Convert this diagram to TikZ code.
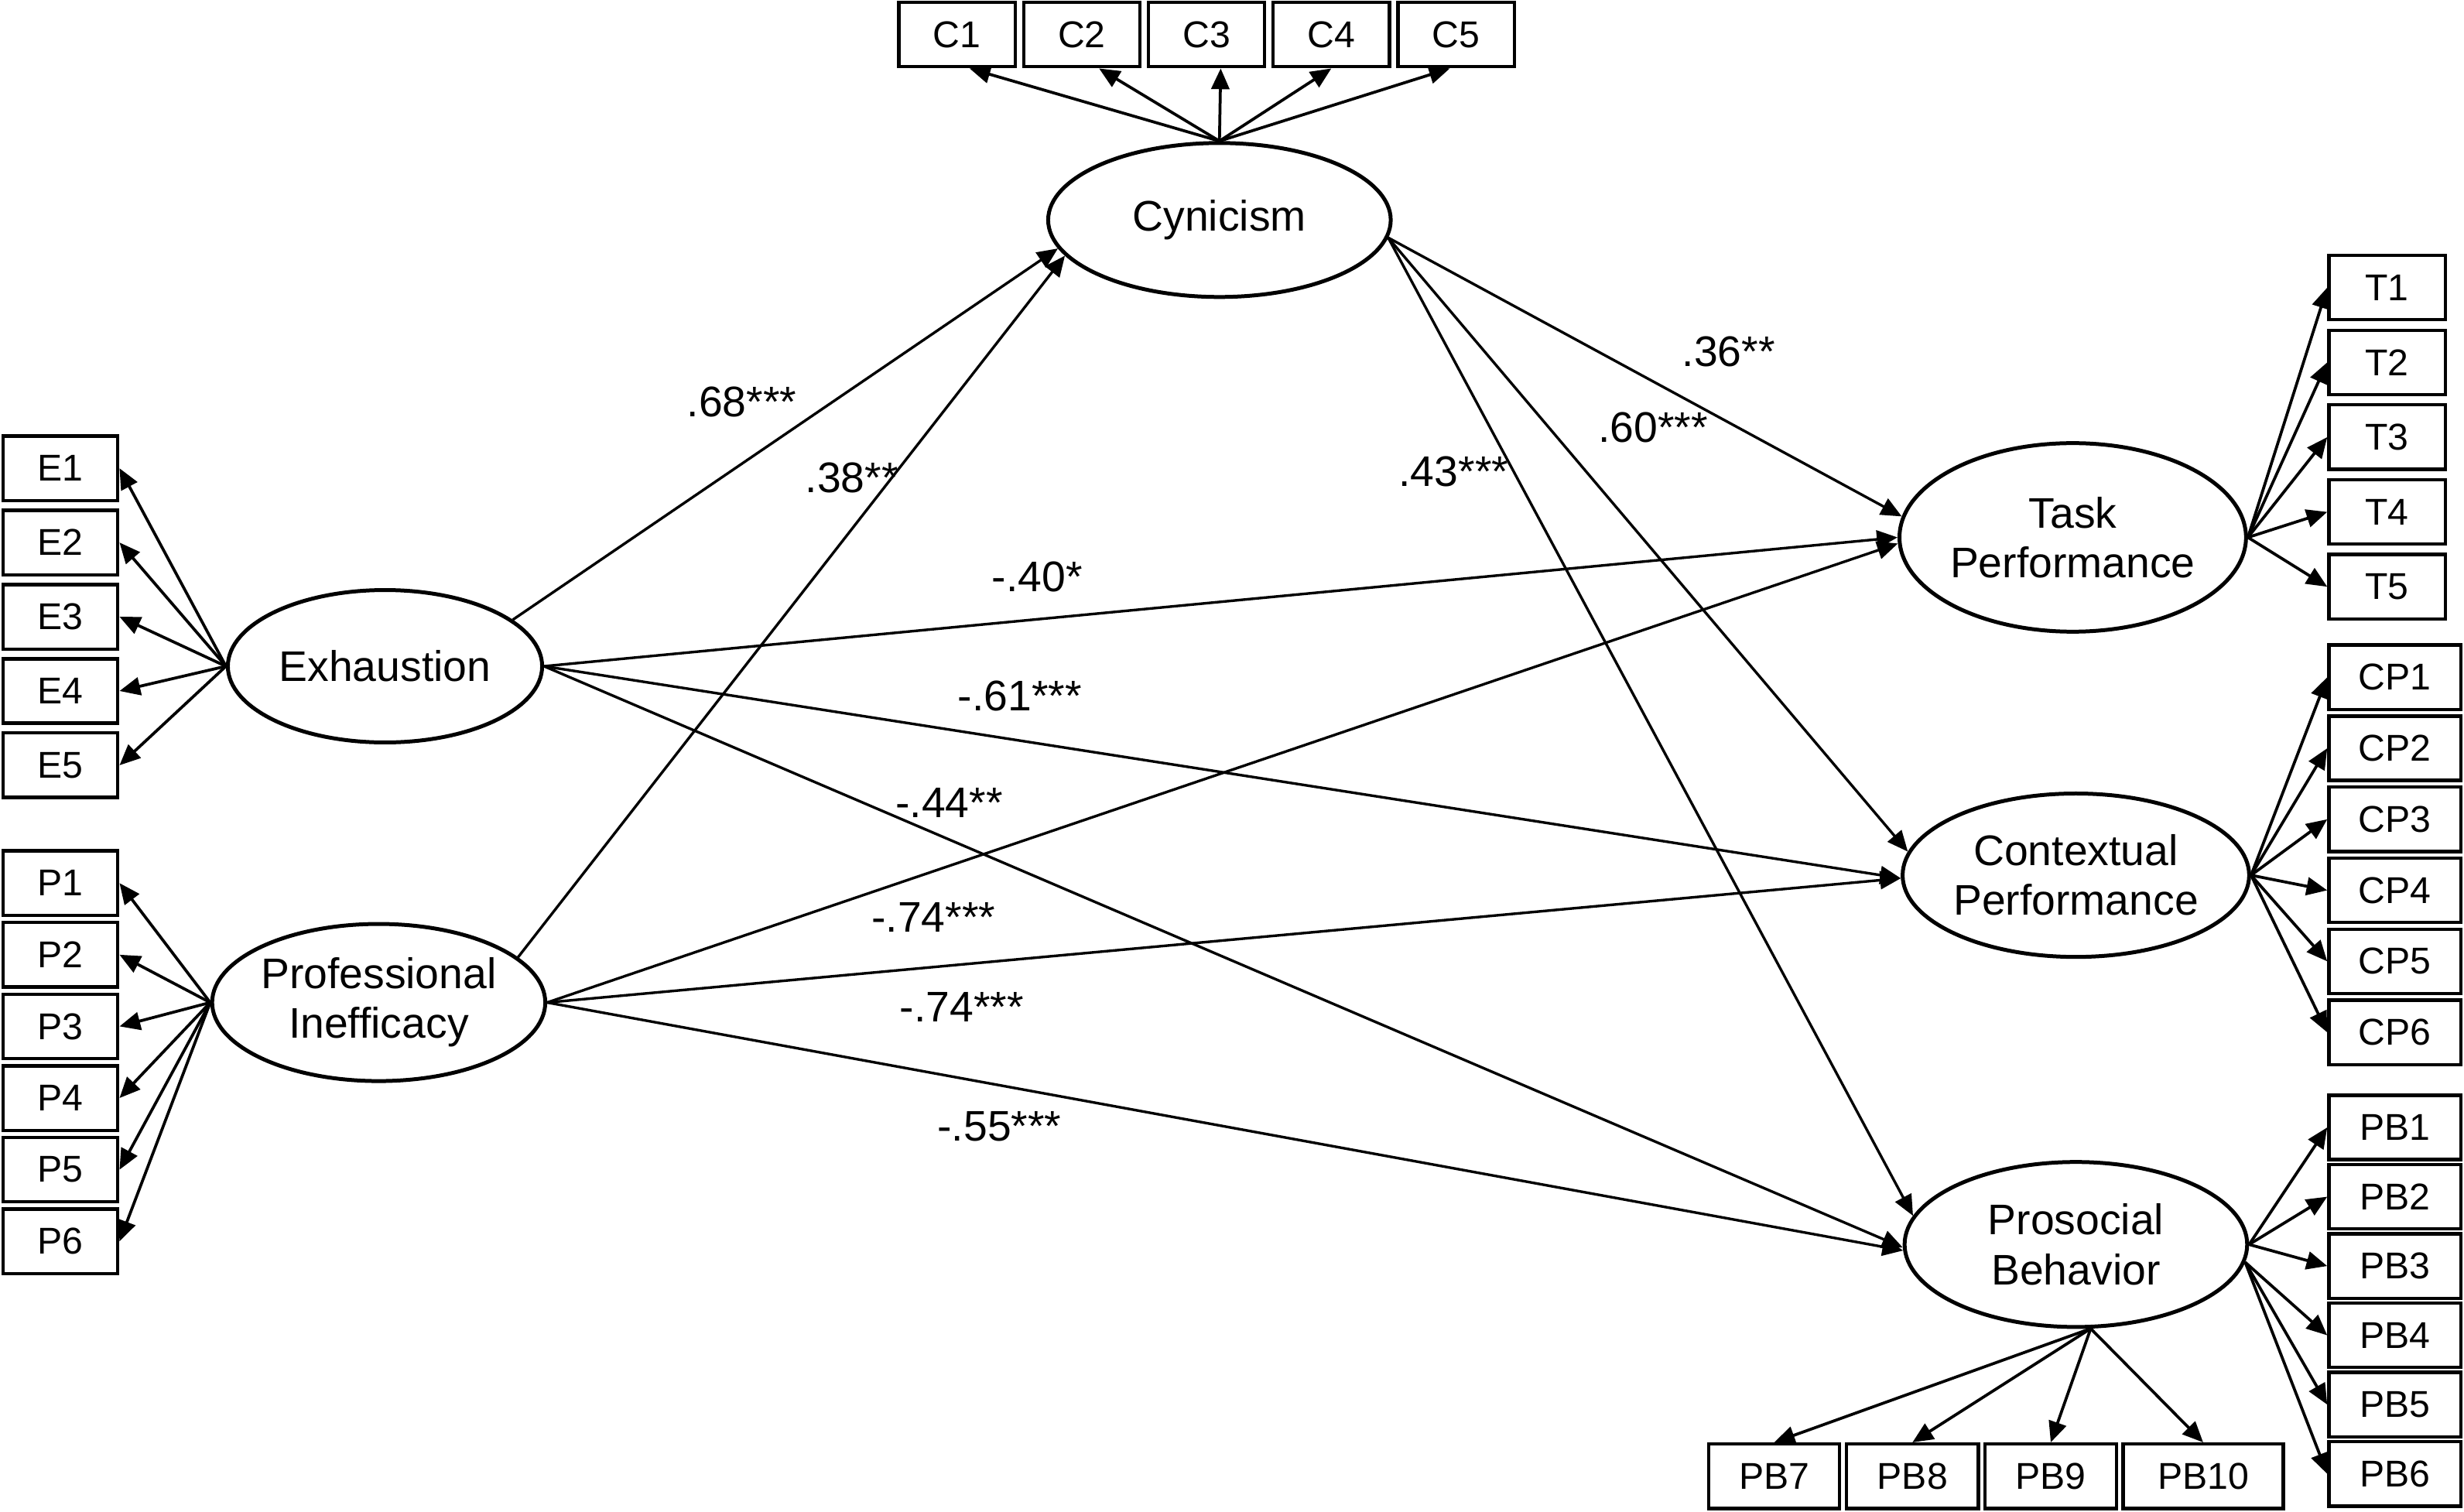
\documentclass[tikz,border=0pt]{standalone}
\usepackage{fontspec}
\setmainfont{Liberation Sans}
\usetikzlibrary{shapes.geometric,arrows.meta}

\begin{document}
\begin{tikzpicture}[
    latent/.style={draw, ellipse, line width=1.4pt, inner sep=0pt, minimum width=4.36cm, minimum height=2.1cm, align=center, font=\fontsize{15.5}{18}\selectfont},
    item/.style={draw, rectangle, line width=1.2pt, inner sep=0pt, minimum width=1.48cm, minimum height=0.82cm, font=\fontsize{13.5}{16}\selectfont},
    coef/.style={inner sep=1pt, font=\fontsize{15.5}{18}\selectfont},
    load/.style={-{Triangle[length=7.5pt,width=6.5pt]}, line width=1.05pt},
    effect/.style={-{Triangle[length=7.5pt,width=6.5pt]}, line width=0.95pt}
]
\useasboundingbox (0,0) rectangle (31.36,-19.24);

% latent factors
\node[latent, minimum height=1.96cm] (cyn) at (15.52,-2.80) {Cynicism};
\node[latent, minimum width=4.0cm, minimum height=1.94cm] (exh) at (4.90,-8.48) {Exhaustion};
\node[latent, minimum width=4.08cm, minimum height=2.0cm] (prof) at (4.82,-12.76) {Professional\\Inefficacy};
\node[latent, minimum height=2.4cm] (task) at (26.38,-6.84) {Task\\Performance};
\node[latent, minimum height=2.08cm] (ctx) at (26.42,-11.14) {Contextual\\Performance};
\node[latent, minimum height=2.1cm] (pros) at (26.42,-15.84) {Prosocial\\Behavior};

% indicators
\foreach \i/\dx in {1/0.16,2/0.22,3/0.18,4/0,5/-0.08} {
  \node[item] (c\i) at ({12.18+(\i-1)*1.588},-0.44) {C\i};
  \draw[load] (cyn.north) -- ([xshift=\dx cm]c\i.south);
}
\foreach \i in {1,...,5} {
  \node[item, minimum width=1.46cm] (e\i) at (0.77,{-5.96-(\i-1)*0.945}) {E\i};
  \draw[load] (exh.west) -- (e\i.east);
}
\foreach \i in {1,...,6} {
  \node[item, minimum width=1.46cm] (p\i) at (0.77,{-11.24-(\i-1)*0.912}) {P\i};
  \draw[load] (prof.west) -- (p\i.east);
}
\foreach \i in {1,...,5} {
  \node[item] (t\i) at (30.38,{-3.66-(\i-1)*0.952}) {T\i};
  \draw[load] (task.east) -- (t\i.west);
}
\foreach \i in {1,...,6} {
  \node[item, minimum width=1.68cm] (cp\i) at (30.48,{-8.62-(\i-1)*0.904}) {CP\i};
  \draw[load] (ctx.east) -- (cp\i.west);
}
\foreach \i/\a in {1/0,2/0,3/0,4/-6,5/-6,6/-6} {
  \node[item, minimum width=1.68cm] (pb\i) at (30.48,{-14.35-(\i-1)*0.882}) {PB\i};
  \draw[load] (pros.\a) -- (pb\i.west);
}
\foreach \i/\x/\w in {7/22.58/1.66,8/24.34/1.68,9/26.10/1.68,10/28.04/2.04} {
  \node[item, minimum width=\w cm] (pb\i) at (\x,-18.79) {PB\i};
  \draw[load] (pros.-80) -- (pb\i.north);
}

% structural paths
\draw[effect] (exh.20) -- (cyn.190);
\draw[effect] (prof.18) -- (cyn.193);
\draw[effect] (cyn.-6) -- (task.173);
\draw[effect] (cyn.-6) -- (ctx.172);
\draw[effect] (cyn.-6) -- (pros.170);
\draw[effect] (exh.east) -- (task.180);
\draw[effect] (exh.east) -- (ctx.181);
\draw[effect] (exh.east) -- (pros.181);
\draw[effect] (prof.east) -- (task.182);
\draw[effect] (prof.east) -- (ctx.181);
\draw[effect] (prof.east) -- (pros.182);

% coefficients
\node[coef] (k68) at (9.44,-5.12) {.68***};
\node[coef] (k38) at (10.84,-6.08) {.38**};
\node[coef] (k36) at (22.00,-4.48) {.36**};
\node[coef] (k60) at (21.04,-5.44) {.60***};
\node[coef] (k43) at (18.50,-6.00) {.43***};
\node[coef] (k40) at (13.20,-7.34) {-.40*};
\node[coef] (k61) at (12.98,-8.86) {-.61***};
\node[coef] (k44) at (12.08,-10.22) {-.44**};
\node[coef] (k74a) at (11.88,-11.68) {-.74***};
\node[coef] (k74b) at (12.24,-12.82) {-.74***};
\node[coef] (k55) at (12.72,-14.34) {-.55***};
\end{tikzpicture}
\end{document}
